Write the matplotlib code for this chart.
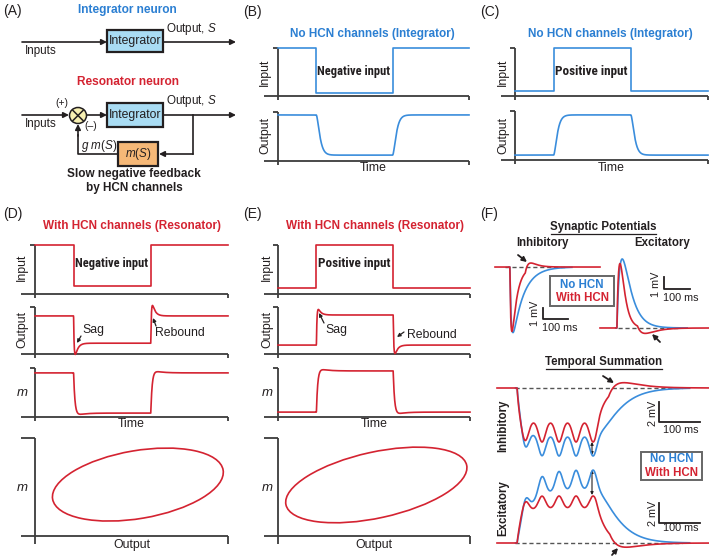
import numpy as np
import matplotlib
matplotlib.use('Agg')
import matplotlib.pyplot as plt
import matplotlib.font_manager as fm
from matplotlib.patches import Rectangle, Ellipse

W, H = 709, 556
plt.rcParams['font.family'] = ['Liberation Sans', 'DejaVu Sans']
plt.rcParams['mathtext.fontset'] = 'custom'
plt.rcParams['mathtext.it'] = 'Liberation Sans:italic'
plt.rcParams['mathtext.rm'] = 'Liberation Sans'

BLUE_T = '#2b7fd2'
BLUE = '#3a8ddc'
RED = '#d42331'
INK = '#231f20'
AXC = '#3c3c3c'
GRID = '#555555'

# ------------------------------------------------------------------ data
# Panels B-E : step stimulus (fraction of the time axis)
step_times = [0.20, 0.60]                 # onset, offset
B_input = [1.00, 0.06]                    # rest level, level during step
B_output = [0.94, 0.12]
C_input = [0.10, 1.00]
C_output = [0.10, 0.92]
D_input = [1.00, 0.16]
D_output = [0.81, 0.23]
D_overshoot = [0.50, 0.47]                # sag, rebound (fraction of step)
D_m = [0.90, 0.08]
E_input = [0.12, 1.00]
E_output = [0.19, 0.83]
E_overshoot = [0.25, 0.36]
E_m = [0.10, 0.94]
# integrator / resonator time constants (fraction of time axis)
tau_integrator = 0.011
tau_resonator = [0.003, 0.014]            # rise, decay of sag/rebound
tau_m = [0.007, 0.04]
m_overshoot = 0.05
# Phase loops (Output vs m): centre x, centre y, width, height, angle
D_loop = [53.3, 26.5, 89.6, 35.0, 9.6]
E_loop = [51.2, 26.3, 96.3, 34.0, 12.2]

# Panel F, synaptic potentials (ms, mV)
sp_onset = [58.0, 66.0]                   # inhibitory, excitatory onset
# amplitude, tau rise, tau decay
sp_inh_blue = [-5.7, 5.0, 42.0]
sp_inh_red = [-5.6, 4.0, 20.0]
sp_exc_blue = [6.0, 14.0, 32.0]
sp_exc_red = [5.6, 9.0, 16.0]
# HCN component: amplitude, delay, tau rise, tau decay
sp_inh_red_hcn = [0.55, 60.0, 12.0, 22.0]
sp_exc_red_hcn = [-0.5, 80.0, 20.0, 40.0]

# Panel F, temporal summation (ms, mV)
ts_peaks = [68.3, 109.8, 151.3, 192.8, 234.3]   # time of each summed PSP peak
ts_ripple_width = 8.5
# plateau: level, onset, offset, tau on, tau off
ts_inh_blue = [-4.7, 49.0, 240.0, 11.6, 32.0]
ts_inh_red = [-3.3, 49.0, 238.0, 6.0, 13.0]
ts_inh_ripple = [-2.1, -2.1]              # blue, red
ts_inh_red_hcn = [0.65, 272.0, 20.0, 40.0]
ts_exc_blue = [5.3, 49.0, 240.0, 27.8, 30.0]
ts_exc_red = [3.42, 49.0, 238.0, 10.9, 14.0]
ts_exc_ripple = [2.0, 1.28]
ts_exc_red_hcn = [-0.55, 275.0, 20.0, 40.0]

# ------------------------------------------------------------------ helpers
fig = plt.figure(figsize=(W / 100, H / 100), dpi=100)
ov = fig.add_axes([0, 0, 1, 1])
ov.set_xlim(0, W)
ov.set_ylim(H, 0)
ov.axis('off')
renderer = fig.canvas.get_renderer()


def px_axes(x0, y0, x1, y1, xlim=(0, 1), ylim=(0, 1)):
    ax = fig.add_axes([x0 / W, 1 - y1 / H, (x1 - x0) / W, (y1 - y0) / H])
    ax.axis('off')
    ax.patch.set_alpha(0)
    ax.set_xlim(*xlim)
    ax.set_ylim(*ylim)
    return ax


def frame(x0, y0, x1, y1, ext=14, below=4, top=5, rt=4):
    kw = dict(color=AXC, lw=1.3, solid_capstyle='butt')
    ov.plot([x0, x0], [y0, y1 + below], **kw)
    ov.plot([x0 - top, x0], [y0, y0], **kw)
    ov.plot([x0 - ext, x1], [y1, y1], **kw)
    ov.plot([x1, x1], [y1, y1 + rt], **kw)


def txt(x, y, s, size=8, color=INK, weight='normal', rot=0, ha='center',
        va='center', style='normal', **kw):
    return ov.text(x, y, s, fontsize=size, color=color, fontweight=weight,
                   rotation=rot, ha=ha, va=va, style=style, **kw)


def fit_txt(x, y, s, width, size=9, **kw):
    t = txt(x, y, s, size=size, **kw)
    w = t.get_window_extent(renderer).width
    if w > width:
        t.set_fontsize(size * width / w)
    return t


def arrow(x0, y0, x1, y1, lw=1.2, ms=8, style='-|>', color=INK):
    ov.annotate('', xy=(x1, y1), xytext=(x0, y0),
                arrowprops=dict(arrowstyle=style, color=color, lw=lw,
                                mutation_scale=ms, shrinkA=0, shrinkB=0))


def kern(dt, tr, td):
    dt = np.clip(dt, 0, None)
    tp = tr * td / (td - tr) * np.log(td / tr)
    pk = np.exp(-tp / td) - np.exp(-tp / tr)
    return (np.exp(-dt / td) - np.exp(-dt / tr)) / pk


def gbump(t, centre, width):
    return np.exp(-0.5 * ((t - centre) / width) ** 2)


def smooth_step(dt, tau, order=2):
    dt = np.clip(dt, 0, None)
    if order == 1:
        return 1 - np.exp(-dt / tau)
    return 1 - (1 + dt / tau) * np.exp(-dt / tau)


def plateau(t, onset, offset, ton, toff):
    on = smooth_step(t - onset, ton, order=1)
    dt = np.clip(t - offset, 0, None)
    off = (1 + dt / toff) * np.exp(-dt / toff)
    return on * off


# condensed bold face for the "Negative/Positive input" labels
cond_kw = {}
for f in fm.fontManager.ttflist:
    if f.name in ('Liberation Sans Narrow', 'Roboto Condensed',
                  'Open Sans Condensed', 'DejaVu Sans Condensed'):
        cond_kw = dict(family=f.name)
        break
    if 'ondensed' in str(f.stretch) and f.name in ('DejaVu Sans', 'Open Sans',
                                                    'Roboto', 'Noto Sans'):
        cond_kw = dict(family=f.name, fontstretch='condensed')

T = np.linspace(0, 1, 1500)
on_t, off_t = step_times


def step_line(ax, levels, color):
    r, s = levels
    ax.plot([0, on_t, on_t, off_t, off_t, 1], [r, r, s, s, r, r],
            color=color, lw=1.2, clip_on=False)


# ------------------------------------------------------------------ panel A
txt(3, 11, '(A)', size=10, ha='left')
txt(127, 10, 'Integrator neuron', size=8.6, color=BLUE_T, weight='bold')
arrow(22, 42, 107, 42)
ov.add_patch(Rectangle((107, 30), 56, 22, facecolor='#a9dcf3',
                       edgecolor=INK, lw=1.6, zorder=3))
txt(135, 41, 'Integrator', size=8.8)
arrow(163, 42, 236, 42)
txt(166, 29, r'Output, $S$', size=8.4, ha='left')
txt(25, 51, 'Inputs', size=8.4, ha='left')

txt(128, 82, 'Resonator neuron', size=8.6, color=RED, weight='bold')
arrow(22, 115, 69, 115)
ov.add_patch(Ellipse((78, 115.5), 17, 16, facecolor='#f7f0b2',
                     edgecolor=INK, lw=1.1, zorder=3))
ov.plot([73, 83], [110.5, 120.5], color=INK, lw=1.1, zorder=4)
ov.plot([73, 83], [120.5, 110.5], color=INK, lw=1.1, zorder=4)
txt(62, 103, '(+)', size=7.5)
txt(91, 126, '(–)', size=7.5)
txt(25, 124, 'Inputs', size=8.4, ha='left')
arrow(87, 115, 107, 115)
ov.add_patch(Rectangle((107, 103), 56, 24, facecolor='#a9dcf3',
                       edgecolor=INK, lw=1.6, zorder=3))
txt(135, 115, 'Integrator', size=8.8)
arrow(163, 115, 236, 115)
txt(166, 101, r'Output, $S$', size=8.4, ha='left')
ov.plot([193, 193], [115, 154], color=INK, lw=1.2)
arrow(193, 154, 159, 154)
ov.add_patch(Rectangle((118, 142), 40, 24, facecolor='#f6b877',
                       edgecolor=INK, lw=1.6, zorder=3))
txt(138, 154, r'$m$($S$)', size=8.4)
ov.plot([118, 78, 78], [154, 154, 135], color=INK, lw=1.2)
arrow(78, 136, 78, 124)
txt(99, 146, r'$g$ $m$($S$)', size=8.4)
txt(134, 174, 'Slow negative feedback', size=8.5, weight='bold')
txt(134, 188, 'by HCN channels', size=8.5, weight='bold')

# ------------------------------------------------------------------ B & C
for (pl, lx, tx, inp, outp, label, lab_x, cx, fr) in [
        ('(B)', 243, 372, B_input, B_output, 'Negative input', 354, 265,
         (278, 469, 48, 96, 112, 161)),
        ('(C)', 480, 610, C_input, C_output, 'Positive input', 591, 503,
         (515, 708, 48, 96, 111, 160))]:
    x0, x1, iy0, iy1, oy0, oy1 = fr
    txt(lx, 12, pl, size=10, ha='left')
    txt(tx, 34, 'No HCN channels (Integrator)', size=8.5, color=BLUE_T,
        weight='bold')
    frame(x0, iy0, x1, iy1)
    frame(x0, oy0, x1, oy1)
    ai = px_axes(x0, iy0, x1, iy1)
    step_line(ai, inp, BLUE)
    ao = px_axes(x0, oy0, x1, oy1)
    r, s = outp
    y = r + (s - r) * (smooth_step(T - on_t, tau_integrator)
                       - smooth_step(T - off_t, tau_integrator))
    ao.plot(T, y, color=BLUE, lw=1.2, clip_on=False)
    fit_txt(lab_x, 72, label, 73, size=9.5, weight='bold', **cond_kw)
    txt(cx, 72, 'Input', size=8.8, rot=90)
    txt(cx, 136, 'Output', size=8.8, rot=90)
    txt((x0 + x1) / 2, 168, 'Time', size=8.8)

# ------------------------------------------------------------------ D & E
for (lx, pl, tx, inp, outp, osh, mlev, loop, label, lab_x, cx, x0, x1) in [
        (3, '(D)', 132, D_input, D_output, D_overshoot, D_m, D_loop,
         'Negative input', 112, 22, 35, 228),
        (243, '(E)', 375, E_input, E_output, E_overshoot, E_m, E_loop,
         'Positive input', 354, 267, 278, 470)]:
    txt(lx, 214, pl, size=10, ha='left')
    txt(tx, 226, 'With HCN channels (Resonator)', size=8.5, color=RED,
        weight='bold')
    frame(x0, 245, x1, 294)
    frame(x0, 307, x1, 354)
    frame(x0, 368, x1, 417)
    frame(x0, 438, x1, 536, ext=14, below=8, top=14, rt=8)
    ai = px_axes(x0, 245, x1, 294)
    step_line(ai, inp, RED)
    ao = px_axes(x0, 307, x1, 354)
    r, s = outp
    tr, td = tau_resonator
    y = r + (s - r) * (smooth_step(T - on_t, tr, 1) + osh[0] * kern(T - on_t, tr, td)
                       - smooth_step(T - off_t, tr, 1) - osh[1] * kern(T - off_t, tr, td))
    ao.plot(T, y, color=RED, lw=1.2, clip_on=False)
    am = px_axes(x0, 368, x1, 417)
    r, s = mlev
    y = r + (s - r) * (smooth_step(T - on_t, tau_m[0], 1)
                       + m_overshoot * kern(T - on_t, tau_m[0], tau_m[1])
                       - smooth_step(T - off_t, tau_m[0], 1)
                       - m_overshoot * kern(T - off_t, tau_m[0], tau_m[1]))
    am.plot(T, y, color=RED, lw=1.2, clip_on=False)
    ap = px_axes(x0, 438, x1, 536, xlim=(0, 100), ylim=(0, 50.5))
    ap.add_patch(Ellipse((loop[0], loop[1]), loop[2], loop[3], angle=loop[4],
                         facecolor='none', edgecolor=RED, lw=1.2))
    fit_txt(lab_x, 264, label, 73, size=9.5, weight='bold', **cond_kw)
    txt(cx, 267, 'Input', size=8.8, rot=90)
    txt(cx, 330, 'Output', size=8.8, rot=90)
    txt(cx, 393, '$m$', size=9.5)
    txt(cx, 488, '$m$', size=9.5)
    txt((x0 + x1) / 2, 424, 'Time', size=8.8)
    txt((x0 + x1) / 2, 545, 'Output', size=8.8)

txt(93, 330, 'Sag', size=8.8)
arrow(81, 336, 77, 343, lw=0.9, ms=5)
txt(180, 333, 'Rebound', size=8.8)
arrow(156, 326, 153, 318, lw=0.9, ms=5)
txt(336, 330, 'Sag', size=8.8)
arrow(324, 323, 319, 313, lw=0.9, ms=5)
txt(432, 335, 'Rebound', size=8.8)
arrow(404, 332, 397, 337, lw=0.9, ms=5)

# ------------------------------------------------------------------ F
txt(480, 214, '(F)', size=10, ha='left')
txt(603, 227, 'Synaptic Potentials', size=8.3, weight='bold')
ov.plot([551, 656], [234, 234], color=INK, lw=0.9)
txt(542, 243, 'Inhibitory', size=8.3, weight='bold')
txt(662, 243, 'Excitatory', size=8.3, weight='bold')

# synaptic potentials
ai = px_axes(495, 250, 600, 345, xlim=(0, 409.5), ylim=(-6.78, 1.48))
t = np.linspace(0, 409.5, 1500)
ai.plot([40, 280], [0, 0], ls=(0, (3, 2)), color=GRID, lw=1.0)
blue = sp_inh_blue[0] * kern(t - sp_onset[0], *sp_inh_blue[1:])
red = (sp_inh_red[0] * kern(t - sp_onset[0], *sp_inh_red[1:])
       + sp_inh_red_hcn[0] * kern(t - sp_onset[0] - sp_inh_red_hcn[1],
                                  *sp_inh_red_hcn[2:]))
mb = (t > sp_onset[0] - 5) & (t < 300)
ai.plot(t[mb], blue[mb], color=BLUE, lw=1.2, clip_on=False)
ai.plot(t, red, color=RED, lw=1.2, clip_on=False)

ae = px_axes(600, 250, 709, 345, xlim=(0, 425), ylim=(-1.48, 6.78))
t = np.linspace(0, 425, 1500)
ae.plot([70, 310], [0, 0], ls=(0, (3, 2)), color=GRID, lw=1.0)
blue = sp_exc_blue[0] * kern(t - sp_onset[1], *sp_exc_blue[1:])
red = (sp_exc_red[0] * kern(t - sp_onset[1], *sp_exc_red[1:])
       + sp_exc_red_hcn[0] * kern(t - sp_onset[1] - sp_exc_red_hcn[1],
                                  *sp_exc_red_hcn[2:]))
mb = (t > sp_onset[1] - 5) & (t < 340)
ae.plot(t[mb], blue[mb], color=BLUE, lw=1.2, clip_on=False)
ae.plot(t, red, color=RED, lw=1.2, clip_on=False)

ov.add_patch(Rectangle((550, 276), 64, 30, facecolor='white',
                       edgecolor='#666666', lw=1.4))
txt(582, 284.5, 'No HCN', size=8.3, weight='bold', color=BLUE_T)
txt(582, 298, 'With HCN', size=8.3, weight='bold', color=RED)

ov.plot([543, 543, 568], [308, 319, 319], color=INK, lw=1.3)
txt(535, 313, '1 mV', size=7.8, rot=90)
txt(560, 328, '100 ms', size=7.8)
ov.plot([664, 664, 690], [277, 289, 289], color=INK, lw=1.3)
txt(656, 284, '1 mV', size=7.8, rot=90)
txt(681, 298, '100 ms', size=7.8)
arrow(518, 255, 527, 262, lw=1.3, ms=7)
arrow(660, 342, 652, 334, lw=1.3, ms=7)

# temporal summation
txt(604, 362, 'Temporal Summation', size=8.3, weight='bold')
ov.plot([546, 662], [369, 369], color=INK, lw=0.9)
t = np.linspace(0, 517, 1500)
ripple = sum(gbump(t, p, ts_ripple_width) for p in ts_peaks)
mb = (t > 45) & (t < 470)

ai = px_axes(497, 375, 709, 468, xlim=(0, 517), ylim=(-8.0, 1.3))
ai.plot([45, 450], [0, 0], ls=(0, (3, 2)), color=GRID, lw=1.0)
env_b = plateau(t, *ts_inh_blue[1:])
env_r = plateau(t, *ts_inh_red[1:])
blue = ts_inh_blue[0] * env_b + ts_inh_ripple[0] * ripple * env_b ** 0.3
red = (ts_inh_red[0] * env_r + ts_inh_ripple[1] * ripple * env_r ** 0.3
       + ts_inh_red_hcn[0] * kern(t - ts_inh_red_hcn[1], *ts_inh_red_hcn[2:]))
ai.plot(t[mb], blue[mb], color=BLUE, lw=1.2, clip_on=False)
ai.plot(t, red, color=RED, lw=1.2, clip_on=False)

ae = px_axes(497, 455, 709, 552, xlim=(0, 517), ylim=(-0.9, 8.8))
ae.plot([45, 450], [0, 0], ls=(0, (3, 2)), color=GRID, lw=1.0)
env_b = plateau(t, *ts_exc_blue[1:])
env_r = plateau(t, *ts_exc_red[1:])
blue = ts_exc_blue[0] * env_b + ts_exc_ripple[0] * ripple * env_b ** 0.3
red = (ts_exc_red[0] * env_r + ts_exc_ripple[1] * ripple * env_r ** 0.3
       + ts_exc_red_hcn[0] * kern(t - ts_exc_red_hcn[1], *ts_exc_red_hcn[2:]))
ae.plot(t[mb], blue[mb], color=BLUE, lw=1.2, clip_on=False)
ae.plot(t, red, color=RED, lw=1.2, clip_on=False)

txt(503, 426, 'Inhibitory', size=8.3, weight='bold', rot=90)
txt(503, 508, 'Excitatory', size=8.3, weight='bold', rot=90)
ov.plot([659, 659, 700], [402, 422, 422], color=INK, lw=1.3)
txt(653, 413, '2 mV', size=7.8, rot=90)
txt(681, 430, '100 ms', size=7.8)
ov.plot([659, 659, 700], [503, 523, 523], color=INK, lw=1.3)
txt(653, 513, '2 mV', size=7.8, rot=90)
txt(681, 528, '100 ms', size=7.8)
ov.add_patch(Rectangle((641, 452), 61, 28, facecolor='white',
                       edgecolor='#666666', lw=1.4))
txt(671.5, 459.5, 'No HCN', size=8.3, weight='bold', color=BLUE_T)
txt(671.5, 473, 'With HCN', size=8.3, weight='bold', color=RED)
arrow(603, 376, 614, 383, lw=1.3, ms=7)
arrow(612, 555, 618, 548, lw=1.3, ms=7)
arrow(592, 442, 592, 455, lw=0.8, ms=4, style='<|-|>')
arrow(592, 470, 592, 495, lw=0.8, ms=4, style='<|-|>')

fig.savefig('out.png', dpi=100)
